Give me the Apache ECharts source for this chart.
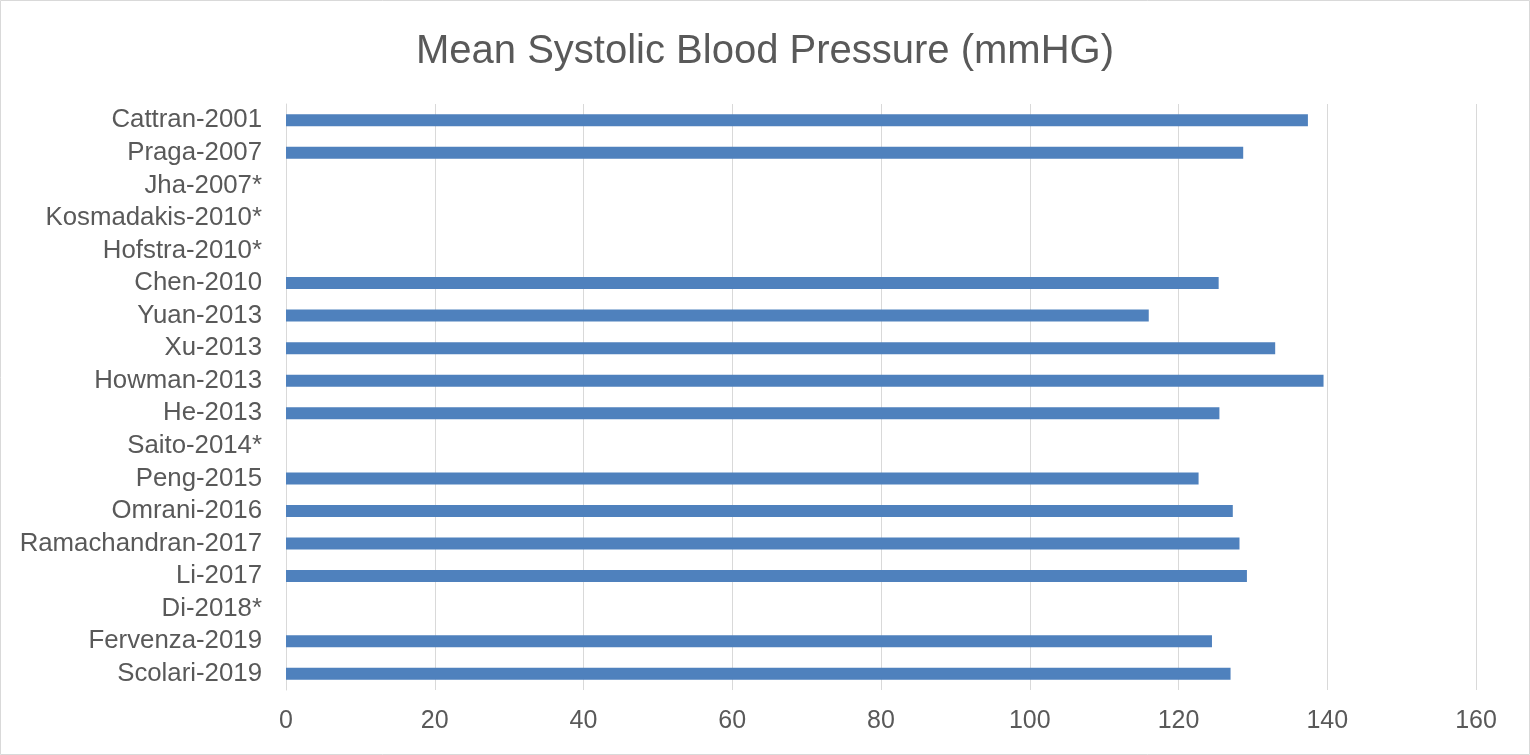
<!DOCTYPE html>
<html>
<head>
<meta charset="utf-8">
<script src="https://cdn.jsdelivr.net/npm/echarts@6/dist/echarts.min.js"></script>
<style>
html,body{margin:0;padding:0;background:#fff;}
#chart{width:1530px;height:755px;}
</style>
</head>
<body>
<div id="chart"></div>
<script>
const studies = ["Cattran-2001","Praga-2007","Jha-2007*","Kosmadakis-2010*","Hofstra-2010*","Chen-2010","Yuan-2013","Xu-2013","Howman-2013","He-2013","Saito-2014*","Peng-2015","Omrani-2016","Ramachandran-2017","Li-2017","Di-2018*","Fervenza-2019","Scolari-2019"];
const meanSBP = [137.4,128.7,null,null,null,125.4,116.0,133.0,139.5,125.5,null,122.7,127.3,128.2,129.2,null,124.5,127.0];
const xTicks = {min:0,max:160,interval:20};

const chart = echarts.init(document.getElementById('chart'));
const font = '"Liberation Sans", Arial, sans-serif';
chart.setOption({
  animation:false,
  backgroundColor:'#ffffff',
  title:{
    text:'Mean Systolic Blood Pressure (mmHG)',
    left:'center', top:27,
    textStyle:{fontFamily:font,fontSize:40,fontWeight:'normal',color:'#595959'}
  },
  graphic:[{type:'rect',shape:{x:0.5,y:0.5,width:1529,height:754},style:{fill:'none',stroke:'#D9D9D9',lineWidth:1},silent:true}],
  grid:{left:286,right:54,top:104,bottom:65,containLabel:false},
  xAxis:{
    type:'value',min:xTicks.min,max:xTicks.max,interval:xTicks.interval,
    axisLine:{show:false},axisTick:{show:false},
    splitLine:{show:true,lineStyle:{color:'#D9D9D9',width:1}},
    axisLabel:{fontFamily:font,fontSize:25,color:'#595959',margin:19}
  },
  yAxis:{
    type:'category',data:studies,inverse:true,
    axisLine:{show:true,lineStyle:{color:'#D9D9D9',width:1}},
    axisTick:{show:false},
    axisLabel:{interval:0,fontFamily:font,fontSize:25.8,color:'#595959',margin:24,padding:[4,0,0,0]}
  },
  series:[{
    type:'bar',data:meanSBP,barWidth:12,
    itemStyle:{color:'#4F81BD'}
  }]
});
</script>
</body>
</html>
